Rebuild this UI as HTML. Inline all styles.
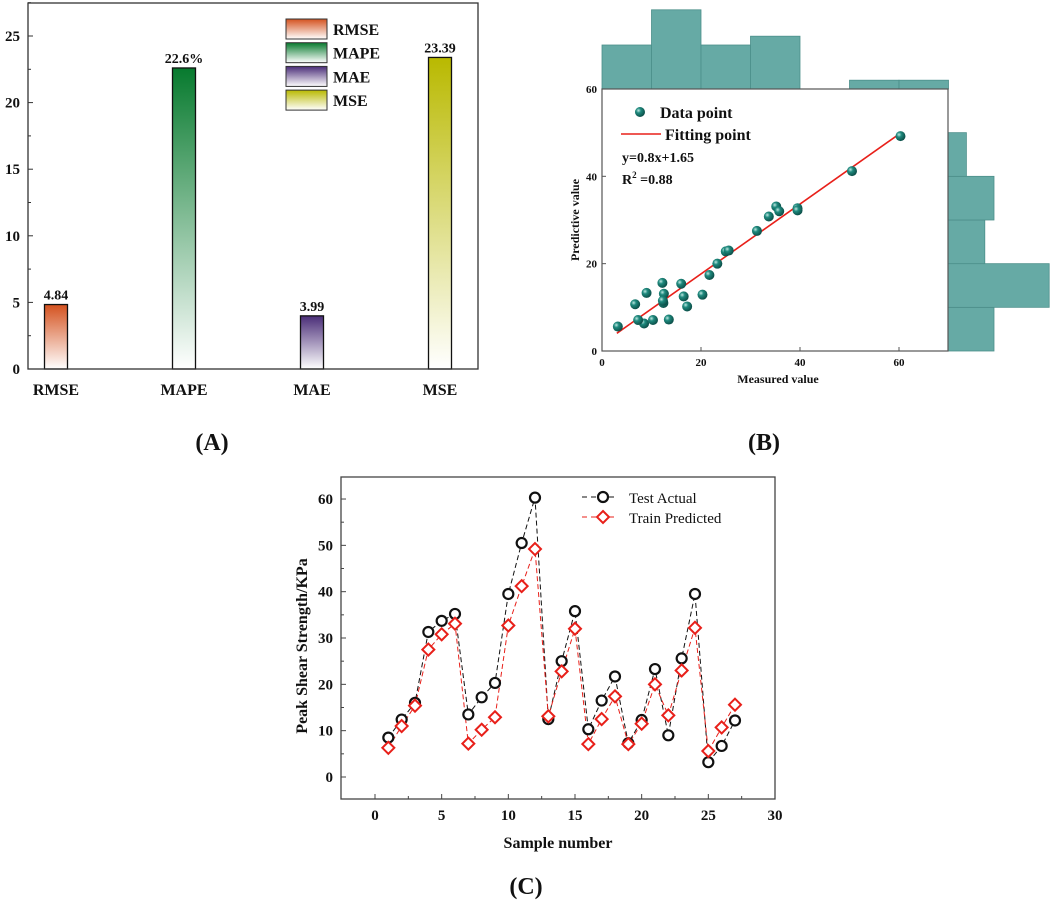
<!DOCTYPE html>
<html><head><meta charset="utf-8"><style>
body{margin:0;background:#fff;}
svg text{font-family:"Liberation Serif",serif;font-weight:bold;fill:#111;}
</style></head><body>
<svg id="fig" width="1052" height="906" viewBox="0 0 1052 906" xmlns="http://www.w3.org/2000/svg">
<defs>
<linearGradient id="gR" x1="0" y1="0" x2="0" y2="1"><stop offset="0" stop-color="#d4521f"/><stop offset="1" stop-color="#fff"/></linearGradient>
<linearGradient id="gG" x1="0" y1="0" x2="0" y2="1"><stop offset="0" stop-color="#077a2e"/><stop offset="1" stop-color="#fff"/></linearGradient>
<linearGradient id="gP" x1="0" y1="0" x2="0" y2="1"><stop offset="0" stop-color="#4a2d78"/><stop offset="1" stop-color="#fff"/></linearGradient>
<linearGradient id="gY" x1="0" y1="0" x2="0" y2="1"><stop offset="0" stop-color="#b9b900"/><stop offset="1" stop-color="#fff"/></linearGradient>
<radialGradient id="ball" cx="0.35" cy="0.35" r="0.7"><stop offset="0" stop-color="#bfe8e2"/><stop offset="0.35" stop-color="#1f8a7e"/><stop offset="1" stop-color="#0a4a44"/></radialGradient>
</defs>
<g id="A"></g>
<g id="B"></g>
<g id="C"></g>
<text x="212" y="450" font-size="24" text-anchor="middle">(A)</text>
<text x="764" y="450" font-size="24" text-anchor="middle">(B)</text>
<text x="526" y="894" font-size="24" text-anchor="middle">(C)</text>
</svg>
<script>
// ---------- data ----------
const metricNames = ["RMSE","MAPE","MAE","MSE"];
const metricValues = [4.84,22.6,3.99,23.39];
const metricLabels = ["4.84","22.6%","3.99","23.39"];
const metricYTicks = [0,5,10,15,20,25];
const sampleIndex = [1,2,3,4,5,6,7,8,9,10,11,12,13,14,15,16,17,18,19,20,21,22,23,24,25,26,27];
const actualValues = [8.5,12.4,16,31.3,33.7,35.2,13.5,17.2,20.3,39.5,50.5,60.3,12.5,25,35.8,10.3,16.5,21.7,7.3,12.3,23.3,9,25.6,39.5,3.2,6.7,12.2];
const predictedValues = [6.3,11,15.4,27.5,30.8,33.1,7.2,10.2,12.9,32.7,41.2,49.2,13.1,22.8,32,7.1,12.5,17.4,7.1,11.5,20,13.3,23,32.2,5.6,10.7,15.6];
const histXBins = [0,10,20,30,40,50,60];
const histXCounts = [5,9,5,6,0,1,1];
const histYBins = [0,10,20,30,40];
const histYCounts = [5,11,4,5,2];
const fitSlope = 0.8, fitIntercept = 1.65;
const cXTicks = [0,5,10,15,20,25,30];
const cYTicks = [0,10,20,30,40,50,60];
const bTicks = [0,20,40,60];

const NS="http://www.w3.org/2000/svg";
function mk(parent,tag,attrs,text){const e=document.createElementNS(NS,tag);for(const k in attrs)e.setAttribute(k,attrs[k]);if(text!==undefined)e.textContent=text;parent.appendChild(e);return e;}

// ---------- Panel A ----------
(function(){
  const g=document.getElementById('A');
  const L=28,R=478,T=3,Bt=369;
  const y=v=>Bt-v*13.32;
  const cx=i=>56+i*128;
  const grads=["url(#gR)","url(#gG)","url(#gP)","url(#gY)"];
  metricValues.forEach((v,i)=>{
    const r=mk(g,'rect',{x:cx(i)-11.5,y:y(v),width:23,height:Bt-y(v),fill:grads[i],stroke:'#111','stroke-width':1.3});
    
    
    const t=mk(g,'text',{x:cx(i),y:y(v)-5,'font-size':14,'text-anchor':'middle'},metricLabels[i]);
    
    
    const c=mk(g,'text',{x:cx(i),y:395,'font-size':16,'text-anchor':'middle'},metricNames[i]);
    
    
  });
  const box=mk(g,'rect',{x:L,y:T,width:R-L,height:Bt-T,fill:'none',stroke:'#333','stroke-width':1.3});
  
  
  metricYTicks.forEach(v=>{
    mk(g,'line',{x1:L,x2:L+5,y1:y(v),y2:y(v),stroke:'#333'});
    mk(g,'line',{x1:L,x2:L+3,y1:y(v+2.5),y2:y(v+2.5),stroke:'#333'});
    const t=mk(g,'text',{x:20,y:y(v)+5,'font-size':15,'text-anchor':'end'},String(v));
    
    
  });
  const grads2=grads;
  metricNames.forEach((n,i)=>{
    const yy=19+i*23.7;
    const r=mk(g,'rect',{x:286,y:yy,width:41,height:20,fill:grads2[i],stroke:'#333','stroke-width':1});
    
    
    const t=mk(g,'text',{x:333,y:yy+16,'font-size':16},n);
    
    
  });
})();

// ---------- Panel B ----------
(function(){
  const g=document.getElementById('B');
  const L=602,R=948,T=89,Bt=351;
  const x=v=>L+v*4.95, y=v=>Bt-v*4.367;
  histXBins.forEach((b,i)=>{
    if(!histXCounts[i])return;
    const h=histXCounts[i]*8.8;
    const r=mk(g,'rect',{x:x(b),y:T-h,width:x(b+10)-x(b),height:h,fill:'#66aaa5',stroke:'#4c8f8a','stroke-width':0.8});
    
    
  });
  histYBins.forEach((b,i)=>{
    const w=histYCounts[i]*9.2;
    const r=mk(g,'rect',{x:R,y:y(b+10),width:w,height:y(b)-y(b+10),fill:'#66aaa5',stroke:'#4c8f8a','stroke-width':0.8});
    
    
  });
  const bg=mk(g,'rect',{x:L,y:T,width:R-L,height:Bt-T,fill:'#fff',stroke:'#555','stroke-width':1.2});
  
  
  bTicks.forEach(v=>{
    mk(g,'line',{x1:x(v),x2:x(v),y1:Bt,y2:Bt-4,stroke:'#555'});
    mk(g,'line',{x1:L,x2:L+4,y1:y(v),y2:y(v),stroke:'#555'});
    const tx=mk(g,'text',{x:x(v),y:Bt+15,'font-size':11,'text-anchor':'middle'},String(v));
    
    
    const ty=mk(g,'text',{x:L-5,y:y(v)+4,'font-size':11,'text-anchor':'end'},String(v));
    
    
  });
  const xmin=3,xmax=60.5;
  const fl=mk(g,'line',{x1:x(xmin),y1:y(fitSlope*xmin+fitIntercept),x2:x(xmax),y2:y(fitSlope*xmax+fitIntercept),stroke:'#e8201a','stroke-width':1.6});
  
  
  actualValues.forEach((a,i)=>{
    const c=mk(g,'circle',{cx:x(a),cy:y(predictedValues[i]),r:5,fill:'url(#ball)'});
    
    
  });
  const ld=mk(g,'circle',{cx:640,cy:112,r:5,fill:'url(#ball)'});
  
  
  const t1=mk(g,'text',{x:660,y:118,'font-size':16},'Data point');
  
  
  mk(g,'line',{x1:621,x2:661,y1:134,y2:134,stroke:'#e8201a','stroke-width':1.6});
  const t2=mk(g,'text',{x:665,y:140,'font-size':16},'Fitting point');
  
  
  const e1=mk(g,'text',{x:622,y:162,'font-size':14},'y=0.8x+1.65');
  
  
  const e2=mk(g,'text',{x:622,y:184,'font-size':14});
  
  
  e2.innerHTML='R<tspan dy="-6" font-size="9">2</tspan><tspan dy="6"> =0.88</tspan>';
  const xt=mk(g,'text',{x:778,y:383,'font-size':12,'text-anchor':'middle'},'Measured value');
  
  
  const yt=mk(g,'text',{x:0,y:0,'font-size':12,'text-anchor':'middle',transform:'translate(579,220) rotate(-90)'},'Predictive value');
  
  
})();

// ---------- Panel C ----------
(function(){
  const g=document.getElementById('C');
  const L=341,R=775,T=477,Bt=799;
  const x=v=>375+v*13.333, y=v=>777-v*4.633;
  const fr=mk(g,'rect',{x:L,y:T,width:R-L,height:Bt-T,fill:'none',stroke:'#444','stroke-width':1.3});
  
  
  cXTicks.forEach(v=>{
    mk(g,'line',{x1:x(v),x2:x(v),y1:Bt,y2:Bt-5,stroke:'#444'});
    if(v<30)mk(g,'line',{x1:x(v+2.5),x2:x(v+2.5),y1:Bt,y2:Bt-3,stroke:'#444'});
    const t=mk(g,'text',{x:x(v),y:Bt+21,'font-size':15,'text-anchor':'middle'},String(v));
    
    
  });
  cYTicks.forEach(v=>{
    mk(g,'line',{x1:L,x2:L+5,y1:y(v),y2:y(v),stroke:'#444'});
    if(v<60)mk(g,'line',{x1:L,x2:L+3,y1:y(v+5),y2:y(v+5),stroke:'#444'});
    const t=mk(g,'text',{x:L-8,y:y(v)+5,'font-size':15,'text-anchor':'end'},String(v));
    
    
  });
  const pa=sampleIndex.map((s,i)=>x(s)+','+y(actualValues[i])).join(' ');
  const la=mk(g,'polyline',{points:pa,fill:'none',stroke:'#111','stroke-width':1,'stroke-dasharray':'5,3'});
  
  
  const pp=sampleIndex.map((s,i)=>x(s)+','+y(predictedValues[i])).join(' ');
  const lp=mk(g,'polyline',{points:pp,fill:'none',stroke:'#e8201a','stroke-width':1,'stroke-dasharray':'5,3'});
  
  
  sampleIndex.forEach((s,i)=>{
    const c=mk(g,'circle',{cx:x(s),cy:y(actualValues[i]),r:5,fill:'#fff',stroke:'#111','stroke-width':2.2});
    
    
  });
  sampleIndex.forEach((s,i)=>{
    const cx=x(s),cy=y(predictedValues[i]);
    const d=mk(g,'polygon',{points:`${cx},${cy-6} ${cx+6},${cy} ${cx},${cy+6} ${cx-6},${cy}`,fill:'#fff',stroke:'#e8201a','stroke-width':2});
    
    
  });
  // legend
  mk(g,'line',{x1:582,x2:617,y1:497,y2:497,stroke:'#111','stroke-dasharray':'5,4'});
  mk(g,'circle',{cx:603,cy:497,r:5,fill:'#fff',stroke:'#111','stroke-width':2.2});
  const t1=mk(g,'text',{x:629,y:503,'font-size':15,'font-weight':'normal',style:'font-weight:normal'},'Test Actual');
  
  
  mk(g,'line',{x1:582,x2:617,y1:517,y2:517,stroke:'#e8201a','stroke-dasharray':'5,4'});
  mk(g,'polygon',{points:'603,511 609,517 603,523 597,517',fill:'#fff',stroke:'#e8201a','stroke-width':2});
  const t2=mk(g,'text',{x:629,y:523,'font-size':15,style:'font-weight:normal'},'Train Predicted');
  
  
  const xt=mk(g,'text',{x:558,y:848,'font-size':16,'text-anchor':'middle'},'Sample number');
  
  
  const yt=mk(g,'text',{x:0,y:0,'font-size':16,'text-anchor':'middle',transform:'translate(307,646) rotate(-90)'},'Peak Shear Strength/KPa');
  
  
})();
</script>
</body></html>
